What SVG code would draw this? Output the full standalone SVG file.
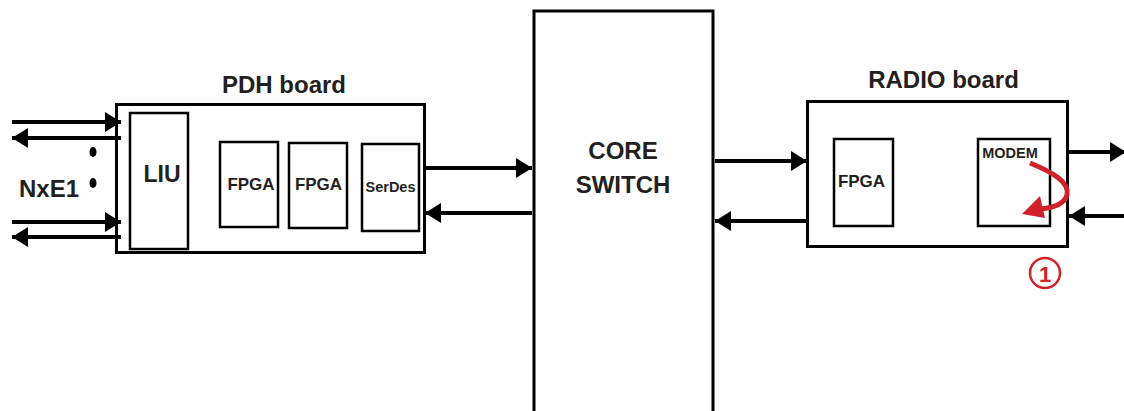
<svg xmlns="http://www.w3.org/2000/svg" width="1124" height="411" viewBox="0 0 1124 411">
<defs>
<style>
.box{fill:#fff;stroke:#000;stroke-width:3}
.sub{fill:none;stroke:#000;stroke-width:2.5}
.lbl{font-family:"Liberation Sans",Arial,sans-serif;font-weight:bold;fill:#231f20;text-anchor:middle}
.wire{stroke:#000;stroke-width:4;fill:none}
.red{stroke:#d0222a;fill:none}
</style>
<marker id="ah" markerUnits="userSpaceOnUse" markerWidth="16" markerHeight="20" refX="16" refY="10" orient="auto" viewBox="0 0 16 20">
<path d="M0,0 L16,10 L0,20 z" fill="#000"/>
</marker>
</defs>
<rect width="1124" height="411" fill="#fff"/>

<g id="core-switch">
<rect class="box" x="534" y="11" width="179" height="420"/>
<text class="lbl" x="623" y="159" font-size="24">CORE</text>
<text class="lbl" x="623" y="193" font-size="24">SWITCH</text>
</g>

<g id="pdh-board">
<text class="lbl" x="284" y="93" font-size="24">PDH board</text>
<rect class="box" x="116.5" y="104.5" width="308" height="148"/>
</g>
<g id="liu">
<rect class="sub" x="130" y="113" width="58" height="136"/>
<text class="lbl" x="162" y="182" font-size="23">LIU</text>
</g>
<g id="pdh-fpga1">
<rect class="sub" x="220" y="142" width="58" height="85"/>
<text class="lbl" x="251" y="190" font-size="17">FPGA</text>
</g>
<g id="pdh-fpga2">
<rect class="sub" x="289" y="143" width="58" height="85"/>
<text class="lbl" x="318.5" y="190" font-size="17">FPGA</text>
</g>
<g id="serdes">
<rect class="sub" x="362" y="144" width="57" height="87"/>
<text class="lbl" x="390.5" y="192" font-size="14.5">SerDes</text>
</g>

<g id="nxe1">
<text class="lbl" x="49" y="197" font-size="24">NxE1</text>
<ellipse cx="93" cy="152" rx="3.5" ry="5" fill="#000"/>
<ellipse cx="93" cy="183" rx="3.5" ry="5" fill="#000"/>
</g>

<g id="radio-board">
<text class="lbl" x="943.5" y="88" font-size="24">RADIO board</text>
<rect class="box" x="807.5" y="101.5" width="260" height="145"/>
</g>
<g id="radio-fpga">
<rect class="sub" x="834" y="139" width="59" height="87"/>
<text class="lbl" x="861.5" y="187" font-size="17">FPGA</text>
</g>
<g id="modem">
<rect class="sub" x="978" y="139" width="72" height="87"/>
<text class="lbl" x="1010" y="158" font-size="14.5">MODEM</text>
</g>

<g id="connectors">
<line class="wire" x1="12" y1="122" x2="121" y2="122" marker-end="url(#ah)"/>
<line class="wire" x1="121" y1="138" x2="12" y2="138" marker-end="url(#ah)"/>
<line class="wire" x1="12" y1="222" x2="121" y2="222" marker-end="url(#ah)"/>
<line class="wire" x1="121" y1="237" x2="12" y2="237" marker-end="url(#ah)"/>
<line class="wire" x1="425" y1="168" x2="532" y2="168" marker-end="url(#ah)"/>
<line class="wire" x1="532" y1="213" x2="425" y2="213" marker-end="url(#ah)"/>
<line class="wire" x1="715" y1="161" x2="807" y2="161" marker-end="url(#ah)"/>
<line class="wire" x1="807" y1="221" x2="715" y2="221" marker-end="url(#ah)"/>
<line class="wire" x1="1068" y1="152" x2="1126" y2="152" marker-end="url(#ah)"/>
<line class="wire" x1="1124" y1="216" x2="1069" y2="216" marker-end="url(#ah)"/>
</g>

<g id="loopback">
<path class="red" stroke-width="5" d="M1030,163 C1052,172 1070,182 1067,195 C1064,205 1052,208 1040,209"/>
<path d="M1022,214 L1040,196 L1045,218 z" fill="#d0222a"/>
<circle class="red" stroke-width="2.5" cx="1045" cy="273" r="15"/>
<text x="1045" y="282" font-family="Liberation Sans,Arial,sans-serif" font-weight="bold" font-size="22" fill="#d0222a" text-anchor="middle">1</text>
</g>
</svg>
